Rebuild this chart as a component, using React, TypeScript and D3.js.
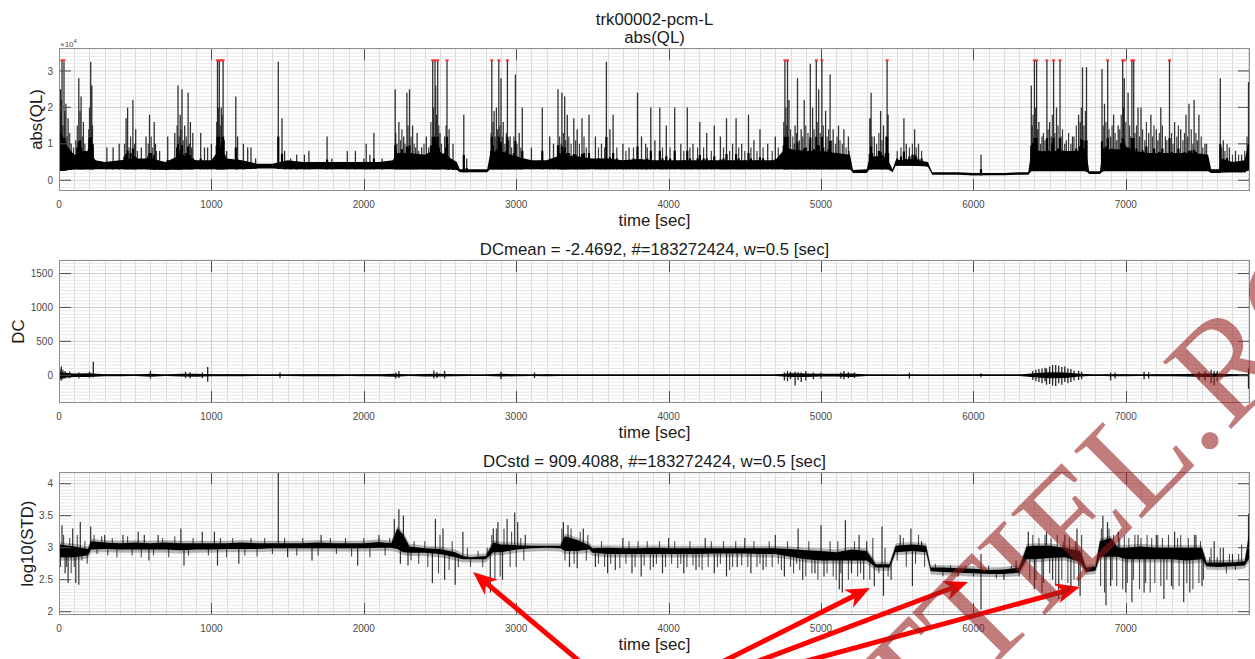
import React from "react";
import * as d3 from "d3";

// ---------------- shared axis data ----------------
const X_MAX = 7815;
const xTickValues = [0, 1000, 2000, 3000, 4000, 5000, 6000, 7000];

// ---------------- panel 1 : abs(QL)  (units of 1e4) ----------------
const qlYTicks = [0, 1, 2, 3];
const qlTimes = [
  0, 60, 100, 150, 200, 240, 300, 400, 500, 600,
  700, 800, 900, 1000, 1060, 1100, 1200, 1300, 1400, 1500,
  1600, 1700, 1800, 1900, 2000, 2100, 2190, 2220, 2300, 2400,
  2470, 2550, 2610, 2630, 2810, 2830, 2900, 3000, 3100, 3200,
  3300, 3400, 3500, 3600, 3700, 3800, 3900, 4000, 4100, 4200,
  4300, 4400, 4500, 4600, 4700, 4750, 4800, 4900, 5000, 5100,
  5190, 5210, 5300, 5320, 5400, 5440, 5470, 5490, 5600, 5700,
  5730, 5800, 5900, 6000, 6100, 6200, 6300, 6360, 6380, 6450,
  6550, 6650, 6740, 6760, 6830, 6850, 6950, 7050, 7150, 7250,
  7350, 7450, 7540, 7560, 7610, 7630, 7700, 7780, 7815,
];
const qlLow = [
  0.25, 0.28, 0.3, 0.3, 0.3, 0.3, 0.3, 0.3, 0.3, 0.3,
  0.28, 0.3, 0.3, 0.3, 0.3, 0.3, 0.3, 0.32, 0.32, 0.3,
  0.3, 0.3, 0.3, 0.3, 0.3, 0.3, 0.3, 0.3, 0.3, 0.3,
  0.3, 0.3, 0.28, 0.22, 0.22, 0.3, 0.3, 0.3, 0.3, 0.3,
  0.3, 0.3, 0.3, 0.3, 0.3, 0.3, 0.3, 0.3, 0.3, 0.3,
  0.3, 0.3, 0.3, 0.3, 0.3, 0.3, 0.3, 0.3, 0.3, 0.3,
  0.3, 0.2, 0.2, 0.3, 0.3, 0.3, 0.22, 0.4, 0.4, 0.38,
  0.15, 0.15, 0.15, 0.13, 0.14, 0.14, 0.15, 0.15, 0.25, 0.25,
  0.25, 0.25, 0.25, 0.17, 0.17, 0.25, 0.25, 0.25, 0.25, 0.25,
  0.25, 0.25, 0.25, 0.2, 0.2, 0.22, 0.22, 0.22, 0.3,
];
const qlHigh = [
  1.4, 0.9, 0.7, 0.8, 0.8, 0.55, 0.5, 0.55, 0.6, 0.6,
  0.5, 0.7, 0.55, 0.55, 0.9, 0.6, 0.55, 0.45, 0.45, 0.55,
  0.5, 0.5, 0.5, 0.5, 0.5, 0.5, 0.55, 0.75, 0.75, 0.7,
  0.85, 0.65, 0.5, 0.3, 0.3, 0.75, 0.8, 0.65, 0.55, 0.55,
  0.7, 0.65, 0.6, 0.6, 0.55, 0.58, 0.55, 0.55, 0.55, 0.55,
  0.55, 0.55, 0.55, 0.55, 0.55, 0.8, 0.85, 0.8, 0.8, 0.75,
  0.7, 0.28, 0.3, 0.65, 0.65, 0.55, 0.3, 0.55, 0.58, 0.5,
  0.22, 0.22, 0.22, 0.2, 0.2, 0.2, 0.22, 0.22, 0.8, 0.8,
  0.8, 0.8, 0.8, 0.25, 0.25, 0.85, 0.85, 0.8, 0.75, 0.75,
  0.75, 0.75, 0.7, 0.3, 0.3, 0.6, 0.5, 0.55, 1.2,
];
// [time, peak] — isolated tall spikes
const qlSpikes: [number, number][] = [
  [10, 2.5], [20, 3.28], [33, 3.25], [45, 2.1], [60, 1.7], [80, 1.0], [130, 2.8], [145, 2.3], [160, 1.6], [208, 3.25],
  [215, 2.6], [225, 1.0], [314, 0.9], [355, 0.9], [395, 1.0], [440, 1.7], [450, 2.0], [485, 2.2], [503, 1.4], [540, 0.9],
  [571, 1.2], [594, 1.8], [625, 1.6], [633, 1.0], [660, 0.8], [713, 1.2], [760, 1.3], [781, 2.6], [795, 1.8], [807, 2.5],
  [825, 1.5], [847, 2.4], [862, 1.6], [878, 1.3], [930, 1.3], [955, 0.9], [975, 0.9], [1000, 1.0], [1040, 3.28], [1052, 3.28],
  [1065, 2.0], [1077, 3.28], [1100, 0.8], [1160, 2.3], [1172, 1.2], [1210, 1.0], [1238, 0.9], [1260, 0.9], [1290, 0.6], [1439, 3.25],
  [1463, 1.7], [1480, 0.8], [1520, 0.6], [1560, 0.7], [1610, 0.7], [1640, 0.8], [1759, 1.2], [1790, 0.6], [1892, 0.8], [1945, 0.8],
  [2000, 0.6], [2016, 1.0], [2040, 0.7], [2066, 1.3], [2120, 0.6], [2206, 2.5], [2230, 1.6], [2262, 1.2], [2283, 2.4], [2300, 2.5],
  [2320, 1.5], [2350, 1.3], [2380, 0.9], [2410, 1.2], [2452, 3.28], [2467, 3.28], [2472, 2.6], [2485, 3.28], [2500, 1.3], [2546, 3.28],
  [2560, 1.4], [2585, 1.0], [2656, 1.8], [2675, 0.6], [2840, 3.28], [2855, 1.9], [2870, 2.0], [2886, 3.28], [2900, 2.8], [2915, 1.6],
  [2942, 3.28], [2960, 1.2], [2995, 2.9], [3020, 1.3], [3040, 2.0], [3100, 0.9], [3171, 2.0], [3220, 1.2], [3245, 1.0], [3274, 2.5],
  [3300, 2.4], [3318, 2.3], [3335, 1.8], [3378, 1.7], [3400, 1.4], [3432, 1.7], [3478, 1.8], [3520, 1.2], [3560, 1.0], [3592, 3.25],
  [3615, 1.4], [3636, 1.8], [3700, 1.0], [3740, 0.9], [3796, 2.4], [3822, 1.2], [3850, 1.0], [3883, 2.0], [3910, 1.1], [3942, 2.0],
  [3985, 1.5], [4040, 2.0], [4080, 1.0], [4123, 2.0], [4160, 1.0], [4205, 1.6], [4250, 1.3], [4300, 1.5], [4340, 1.2], [4380, 1.7],
  [4420, 1.0], [4443, 1.7], [4480, 1.0], [4524, 1.8], [4560, 1.1], [4600, 1.4], [4650, 1.0], [4700, 1.2], [4763, 3.28], [4780, 3.28],
  [4790, 2.2], [4830, 1.5], [4846, 2.8], [4870, 1.4], [4890, 2.2], [4930, 3.2], [4945, 2.0], [4969, 3.28], [4985, 2.5], [5006, 3.28],
  [5030, 1.9], [5060, 2.9], [5080, 1.4], [5115, 1.5], [5150, 1.4], [5180, 1.2], [5320, 1.7], [5329, 2.4], [5350, 1.2], [5391, 1.9],
  [5410, 1.5], [5434, 3.28], [5440, 1.8], [5544, 1.7], [5560, 1.0], [5614, 1.4], [5640, 1.0], [5700, 0.5], [6050, 0.7], [6380, 2.6],
  [6400, 3.28], [6415, 3.28], [6430, 1.6], [6450, 1.2], [6482, 3.28], [6500, 1.6], [6526, 3.28], [6545, 2.0], [6568, 3.28], [6600, 1.0],
  [6650, 1.2], [6690, 1.8], [6716, 3.1], [6742, 3.1], [6844, 3.05], [6860, 2.1], [6881, 3.28], [6920, 1.8], [6950, 1.5], [6980, 3.28],
  [6990, 2.8], [7015, 2.4], [7040, 3.28], [7052, 3.28], [7080, 2.0], [7100, 2.0], [7150, 1.3], [7165, 1.8], [7200, 1.4], [7230, 2.0],
  [7260, 1.2], [7287, 3.28], [7320, 1.6], [7360, 1.4], [7395, 1.8], [7415, 2.1], [7448, 2.2], [7480, 1.8], [7520, 1.0], [7620, 2.8],
  [7640, 1.1], [7680, 0.9], [7720, 0.8], [7760, 0.7], [7805, 2.7],
];
// [time, peak] — dense bursts of medium spikes
const qlBurst: [number, number][] = [
  [5, 1.8], [15, 2.2], [25, 1.5], [38, 1.9], [52, 1.2], [70, 1.3], [95, 0.9], [110, 1.1], [120, 1.5], [138, 1.9],
  [152, 1.2], [170, 1.0], [185, 0.8], [195, 1.4], [200, 2.0], [220, 1.5], [430, 1.0], [460, 0.9], [470, 1.2], [495, 1.0],
  [515, 0.8], [585, 1.0], [605, 1.2], [615, 0.9], [640, 0.8], [775, 1.5], [788, 1.2], [800, 1.4], [815, 1.1], [835, 1.2],
  [855, 1.0], [870, 0.9], [1035, 1.6], [1045, 2.0], [1058, 1.5], [1070, 1.8], [1085, 1.1], [2210, 1.3], [2218, 1.0], [2240, 1.1],
  [2250, 1.4], [2270, 1.0], [2290, 1.5], [2310, 1.2], [2330, 1.0], [2340, 0.9], [2360, 0.8], [2395, 1.0], [2425, 0.9], [2440, 1.6],
  [2458, 2.0], [2478, 1.8], [2492, 1.5], [2510, 1.0], [2530, 1.2], [2540, 1.5], [2552, 1.0], [2835, 1.3], [2848, 1.6], [2862, 1.2],
  [2878, 1.4], [2893, 1.5], [2908, 1.2], [2925, 1.0], [2935, 1.3], [2950, 1.1], [2970, 0.9], [2985, 1.2], [3005, 1.0], [3030, 0.9],
  [3285, 1.2], [3295, 1.0], [3310, 1.3], [3325, 1.1], [3345, 1.2], [3360, 1.0], [3390, 1.1], [3415, 1.0], [3445, 1.2], [3460, 0.9],
  [3540, 0.9], [3580, 0.9], [3660, 0.9], [3720, 0.8], [3770, 0.9], [3860, 0.9], [3960, 0.9], [4010, 0.9], [4100, 0.8], [4140, 0.9],
  [4190, 0.9], [4230, 0.9], [4280, 0.8], [4360, 0.9], [4400, 0.8], [4460, 0.9], [4500, 0.8], [4540, 0.9], [4580, 0.8], [4620, 0.9],
  [4680, 0.8], [4720, 0.9], [4755, 1.6], [4770, 2.0], [4775, 1.5], [4800, 1.4], [4815, 1.2], [4825, 1.0], [4840, 1.3], [4858, 1.1],
  [4880, 1.2], [4900, 1.5], [4915, 1.3], [4925, 1.0], [4955, 1.4], [4975, 1.6], [4995, 1.3], [5015, 1.5], [5040, 1.2], [5050, 1.4],
  [5070, 1.1], [5095, 1.0], [5105, 1.2], [5125, 1.1], [5140, 1.0], [5165, 0.9], [5185, 0.8], [5335, 1.2], [5365, 1.0], [5380, 1.3],
  [5400, 1.1], [5425, 1.2], [5500, 0.8], [5525, 0.9], [5580, 0.9], [5600, 1.0], [5625, 0.9], [5660, 0.8], [6385, 1.5], [6392, 1.8],
  [6408, 2.0], [6422, 1.4], [6440, 1.0], [6460, 1.3], [6470, 1.1], [6490, 1.4], [6510, 1.2], [6518, 1.8], [6535, 1.3], [6555, 1.5],
  [6575, 1.2], [6585, 1.4], [6610, 1.1], [6625, 1.3], [6640, 1.0], [6660, 1.2], [6675, 1.5], [6700, 1.6], [6708, 2.0], [6725, 1.5],
  [6735, 1.9], [6852, 1.5], [6870, 1.6], [6890, 1.4], [6900, 1.2], [6910, 1.5], [6930, 1.3], [6940, 1.1], [6960, 1.4], [6970, 1.8],
  [6985, 2.0], [7000, 1.6], [7025, 1.5], [7030, 1.2], [7060, 1.3], [7070, 1.5], [7090, 1.2], [7110, 1.4], [7125, 1.1], [7135, 1.6],
  [7175, 1.2], [7185, 1.5], [7210, 1.1], [7220, 1.3], [7240, 1.5], [7270, 1.1], [7300, 1.3], [7310, 1.0], [7335, 1.2], [7345, 1.5],
  [7375, 1.1], [7385, 1.3], [7405, 1.2], [7430, 1.4], [7440, 1.0], [7460, 1.3], [7470, 1.1], [7495, 1.2], [7505, 0.9], [7530, 1.0],
  [7630, 0.9], [7650, 0.8], [7665, 1.0], [7700, 0.7], [7740, 0.7], [7780, 0.8], [7795, 1.2],
];
const qlClipTimes = [
  20, 33, 1040, 1052, 1065, 1077, 2452, 2467, 2485, 2546, 2840, 2886, 2942, 4763, 4780,
  4969, 5006, 5434, 6400, 6415, 6482, 6526, 6568, 6881, 6980, 6990, 7040, 7052, 7287,
];
const QL_CLIP = 3.2767;

// ---------------- panel 2 : DC ----------------
const dcYTicks = [0, 500, 1000, 1500];
const dcTimes = [
  0, 100, 200, 300, 400, 500, 600, 700, 800, 900,
  1000, 1100, 1200, 1300, 1400, 1500, 1600, 1700, 1800, 1900,
  2000, 2100, 2200, 2300, 2400, 2500, 2600, 2700, 2800, 2900,
  3000, 3100, 3200, 3300, 3400, 3500, 3600, 3700, 3800, 3900,
  4000, 4100, 4200, 4300, 4400, 4500, 4600, 4700, 4800, 4900,
  5000, 5100, 5200, 5300, 5400, 5500, 5600, 5700, 5800, 5900,
  6000, 6100, 6200, 6300, 6400, 6500, 6600, 6700, 6800, 6900,
  7000, 7100, 7200, 7300, 7400, 7500, 7600, 7700, 7800, 7815,
];
const dcAmp = [
  45, 25, 28, 14, 14, 12, 22, 12, 20, 22,
  15, 14, 14, 12, 12, 12, 14, 14, 14, 12,
  14, 14, 22, 10, 18, 20, 14, 10, 10, 20,
  15, 12, 14, 10, 10, 10, 10, 10, 10, 10,
  10, 10, 10, 10, 10, 10, 10, 10, 28, 26,
  20, 20, 25, 12, 10, 8, 12, 8, 8, 9,
  9, 9, 9, 12, 30, 45, 40, 20, 9, 16,
  14, 12, 16, 16, 18, 26, 26, 14, 16, 16,
];
// [time, max, min]
const dcSpikes: [number, number, number][] = [
  [5, 90, -70], [15, 130, -80], [25, 80, -60], [40, 60, -50], [70, 50, -40], [130, 40, -45], [200, 50, -40], [225, 200, -30],
  [600, 60, -50], [830, 50, -40], [860, 45, -45], [940, 40, -40], [976, 120, -95], [1450, 40, -40], [2210, 40, -50], [2230, 60, -40],
  [2460, 70, -50], [2480, 45, -40], [2530, 60, -50], [2900, 50, -60], [3120, 40, -40], [4760, 40, -80], [4780, 60, -90], [4800, 50, -60],
  [4830, 50, -150], [4850, 45, -70], [4870, 40, -100], [4900, 60, -80], [4950, 40, -60], [5000, 40, -50], [5130, 40, -50], [5150, 60, -60],
  [5180, 45, -45], [5220, 40, -40], [5580, 40, -50], [6050, 30, -30], [6390, 60, -70], [6410, 80, -90], [6430, 90, -100], [6450, 100, -120],
  [6470, 110, -90], [6480, 100, -140], [6500, 130, -130], [6520, 150, -150], [6540, 150, -160], [6560, 140, -120], [6580, 120, -140],
  [6600, 130, -100], [6620, 100, -120], [6640, 90, -100], [6660, 70, -80], [6690, 60, -70], [6710, 50, -60], [6900, 40, -80],
  [6930, 40, -50], [7120, 50, -60], [7150, 45, -50], [7480, 50, -70], [7520, 60, -80], [7560, 80, -120], [7580, 60, -150],
  [7600, 60, -90], [7805, 100, -200],
];

// ---------------- panel 3 : log10(STD) ----------------
const stdYTicks = [2, 2.5, 3, 3.5, 4];
const stdTimes = [
  0, 100, 190, 210, 300, 400, 500, 600, 700, 800,
  900, 1000, 1100, 1200, 1300, 1400, 1500, 1600, 1700, 1800,
  1900, 2000, 2100, 2180, 2220, 2260, 2300, 2400, 2500, 2600,
  2650, 2700, 2800, 2850, 2900, 3000, 3100, 3200, 3290, 3320,
  3400, 3480, 3500, 3600, 3700, 3800, 3900, 4000, 4100, 4200,
  4300, 4400, 4500, 4600, 4700, 4800, 4900, 5000, 5100, 5200,
  5300, 5360, 5450, 5490, 5600, 5690, 5720, 5800, 5900, 6000,
  6100, 6200, 6300, 6350, 6400, 6500, 6600, 6700, 6740, 6800,
  6830, 6900, 6950, 7000, 7100, 7200, 7300, 7400, 7500, 7530,
  7600, 7700, 7780, 7815,
];
const stdLo = [
  2.85, 2.85, 2.88, 2.97, 2.98, 2.97, 2.97, 2.97, 2.97, 2.96,
  2.97, 2.97, 2.98, 2.98, 2.98, 2.99, 2.99, 2.99, 2.99, 2.99,
  2.99, 2.99, 3.0, 3.0, 2.98, 2.93, 2.92, 2.92, 2.9, 2.85,
  2.82, 2.82, 2.82, 2.93, 2.93, 2.97, 2.99, 3.0, 2.99, 2.95,
  2.95, 2.97, 2.92, 2.9, 2.9, 2.9, 2.9, 2.9, 2.9, 2.9,
  2.91, 2.91, 2.91, 2.9, 2.9, 2.86, 2.82, 2.8, 2.8, 2.8,
  2.8, 2.69, 2.69, 2.93, 2.95, 2.93, 2.63, 2.62, 2.61, 2.6,
  2.59, 2.59, 2.61, 2.82, 2.82, 2.84, 2.85, 2.78, 2.62, 2.64,
  2.86, 2.86, 2.86, 2.82, 2.82, 2.82, 2.82, 2.8, 2.82, 2.71,
  2.7, 2.71, 2.72, 2.85,
];
const stdHi = [
  3.05, 3.02, 2.98, 3.1, 3.08, 3.07, 3.08, 3.07, 3.08, 3.07,
  3.07, 3.07, 3.07, 3.08, 3.07, 3.07, 3.07, 3.07, 3.08, 3.07,
  3.07, 3.07, 3.09, 3.07, 3.3, 3.2, 3.02, 2.99, 2.98, 2.93,
  2.87, 2.85, 2.87, 3.08, 3.05, 3.04, 3.03, 3.03, 3.03, 3.18,
  3.12, 3.04, 2.99, 3.0, 2.99, 2.99, 3.0, 2.99, 2.99, 2.99,
  2.99, 2.99, 2.99, 2.99, 2.99, 2.98, 2.96, 2.95, 2.93, 2.97,
  2.95, 2.74, 2.74, 3.03, 3.05, 3.03, 2.69, 2.69, 2.68, 2.67,
  2.65, 2.66, 2.69, 3.02, 3.03, 3.03, 3.0, 2.95, 2.69, 2.71,
  3.1, 3.15, 3.0, 3.0, 3.02, 3.0, 3.0, 3.0, 3.0, 2.77,
  2.77, 2.77, 2.79, 3.3,
];
// [time, extreme value] drawn from the band centre
const stdSpikes: [number, number][] = [
  [20, 3.35], [40, 2.6], [60, 2.45], [90, 3.3], [110, 2.45], [130, 2.42], [140, 3.4], [208, 3.33], [300, 3.2], [420, 3.2],
  [520, 3.25], [560, 3.2], [590, 2.8], [650, 3.2], [800, 3.3], [820, 2.72], [940, 3.25], [1020, 3.25], [1040, 2.72], [1180, 2.75],
  [1439, 4.18], [1500, 2.85], [1660, 2.8], [1720, 3.2], [1960, 2.72], [2100, 3.2], [2200, 3.45], [2230, 3.6], [2260, 3.5], [2240, 2.75],
  [2290, 2.72], [2470, 3.45], [2450, 2.45], [2530, 2.5], [2520, 3.3], [2600, 2.42], [2650, 3.25], [2830, 2.3], [2850, 3.3], [2880, 3.4],
  [2910, 2.5], [2940, 3.45], [2990, 3.55], [3010, 3.4], [3060, 3.2], [3310, 3.4], [3340, 3.35], [3350, 2.7], [3400, 2.68], [3440, 3.3],
  [3520, 2.7], [3600, 2.6], [3650, 2.65], [3700, 3.15], [3760, 2.6], [3820, 2.55], [3900, 2.7], [3960, 2.6], [4000, 3.15], [4100, 2.6],
  [4180, 2.65], [4240, 3.15], [4300, 2.6], [4380, 2.55], [4450, 2.7], [4500, 3.15], [4540, 2.6], [4620, 2.65], [4700, 3.2], [4760, 2.55],
  [4850, 3.3], [4880, 2.5], [4960, 2.6], [5000, 3.35], [5020, 2.55], [5120, 2.35], [5140, 2.3], [5160, 3.43], [5200, 2.6], [5250, 3.2],
  [5280, 2.5], [5300, 3.1], [5350, 2.4], [5400, 3.33], [5410, 2.25], [5460, 2.5], [5520, 3.2], [5590, 3.3], [5600, 2.4], [5660, 3.1],
  [6050, 2.03], [6050, 2.9], [6200, 2.5], [6280, 2.8], [6360, 3.25], [6400, 2.35], [6450, 2.3], [6480, 3.25], [6520, 2.5], [6560, 2.2],
  [6600, 3.2], [6640, 2.4], [6680, 3.3], [6700, 2.25], [6850, 3.5], [6870, 2.1], [6880, 3.4], [6900, 2.4], [6950, 3.25], [7000, 2.3],
  [7040, 2.15], [7080, 3.2], [7120, 2.3], [7200, 3.2], [7250, 2.2], [7300, 2.4], [7320, 3.25], [7380, 2.15], [7420, 2.3], [7460, 3.2],
  [7500, 2.4], [7580, 3.1], [7640, 3.0], [7700, 2.9], [7805, 3.53],
];
// [time, value] fine noise around the band
const stdNoise: [number, number][] = [
  [10, 2.7], [30, 3.2], [50, 2.7], [70, 3.15], [80, 2.6], [100, 2.7], [120, 3.2], [150, 2.8], [170, 3.1], [185, 2.75],
  [230, 3.2], [250, 2.9], [280, 3.18], [320, 2.88], [350, 3.15], [380, 2.85], [450, 3.18], [480, 2.88], [540, 2.85], [620, 2.88],
  [680, 3.15], [720, 2.85], [760, 3.18], [850, 2.88], [880, 3.15], [980, 2.88], [1060, 3.15], [1100, 2.85], [1140, 3.15], [1220, 2.88],
  [1260, 3.15], [1300, 2.86], [1350, 3.15], [1400, 2.9], [1480, 3.15], [1560, 2.88], [1600, 3.15], [1700, 2.88], [1780, 3.15], [1820, 2.9],
  [1880, 3.15], [1920, 2.86], [2000, 3.15], [2040, 2.85], [2140, 2.88], [2170, 3.15], [2310, 2.8], [2330, 3.1], [2360, 2.75], [2400, 3.1],
  [2420, 2.7], [2490, 2.6], [2500, 3.2], [2560, 2.65], [2580, 3.1], [2620, 2.7], [2680, 3.0], [2700, 2.7], [2750, 2.95], [2780, 2.7],
  [2810, 3.0], [2840, 3.2], [2860, 2.5], [2870, 3.3], [2895, 2.55], [2920, 3.3], [2960, 2.7], [2970, 3.25], [3000, 2.7], [3030, 3.15],
  [3050, 2.8], [3300, 3.3], [3320, 2.8], [3360, 3.3], [3380, 2.75], [3420, 3.25], [3460, 2.8], [3470, 3.2], [3540, 2.75], [3560, 3.1],
  [3580, 2.7], [3620, 2.75], [3680, 2.68], [3720, 2.75], [3740, 3.1], [3780, 2.7], [3800, 3.1], [3840, 2.72], [3860, 3.1], [3880, 2.65],
  [3920, 2.75], [3940, 3.1], [3980, 2.7], [4020, 2.75], [4040, 3.1], [4060, 2.68], [4080, 2.75], [4120, 2.7], [4140, 3.1], [4160, 2.72],
  [4200, 2.7], [4220, 2.65], [4260, 2.7], [4280, 3.1], [4320, 2.7], [4340, 2.75], [4360, 3.1], [4400, 2.65], [4420, 2.7], [4440, 3.1],
  [4480, 2.72], [4520, 2.7], [4560, 3.1], [4580, 2.7], [4600, 2.75], [4640, 2.7], [4660, 3.1], [4680, 2.7], [4720, 2.75], [4740, 2.65],
  [4780, 3.1], [4800, 2.7], [4820, 2.6], [4840, 2.75], [4860, 2.65], [4900, 2.55], [4920, 3.1], [4940, 2.6], [4980, 2.5], [5040, 2.6],
  [5060, 3.1], [5080, 2.55], [5100, 2.5], [5110, 3.1], [5130, 2.6], [5180, 2.5], [5220, 3.1], [5240, 2.55], [5260, 2.6], [5320, 2.5],
  [5340, 3.15], [5380, 2.6], [5420, 3.0], [5440, 2.55], [5500, 2.8], [5540, 3.15], [5560, 2.7], [5620, 2.75], [5640, 3.2], [5680, 2.7],
  [5750, 2.75], [5800, 2.55], [5850, 2.72], [5900, 2.55], [5950, 2.72], [6000, 2.55], [6100, 2.72], [6150, 2.52], [6250, 2.72], [6300, 2.55],
  [6370, 2.5], [6390, 3.2], [6410, 2.5], [6430, 3.15], [6460, 2.45], [6470, 3.2], [6500, 2.6], [6510, 3.15], [6540, 2.4], [6550, 3.2],
  [6580, 2.5], [6590, 3.1], [6620, 2.45], [6630, 3.15], [6660, 2.5], [6670, 3.1], [6690, 2.4], [6710, 3.2], [6835, 2.4], [6840, 3.3],
  [6860, 2.3], [6890, 3.3], [6910, 2.5], [6920, 3.2], [6940, 2.4], [6960, 3.15], [6980, 2.35], [6990, 3.2], [7010, 2.45], [7020, 3.15],
  [7050, 2.5], [7060, 3.2], [7090, 2.35], [7100, 3.15], [7130, 2.45], [7140, 3.2], [7160, 2.3], [7170, 3.15], [7190, 2.45], [7210, 3.2],
  [7230, 2.4], [7240, 3.15], [7270, 2.5], [7280, 3.2], [7310, 2.35], [7340, 3.15], [7350, 2.4], [7360, 3.2], [7400, 2.45], [7410, 3.15],
  [7440, 2.35], [7450, 3.2], [7480, 2.45], [7490, 3.1], [7510, 2.5], [7550, 2.85], [7560, 3.0], [7600, 2.85], [7620, 3.0], [7660, 2.6],
  [7680, 2.9], [7720, 2.65], [7740, 2.9], [7760, 3.05], [7790, 2.85],
];

// ---------------- layout ----------------
const W = 1255;
const H = 659;
const LEFT = 59;
const RIGHT = 1250;
const TICK = 12;
const FONT = "'Liberation Sans', Arial, Helvetica, sans-serif";

type AxesProps = {
  id: string;
  top: number;
  bottom: number;
  y: d3.ScaleLinear<number, number>;
  yTicks: number[];
  yMinor: number;
  yFmt: (v: number) => string;
  titles: string[];
  ylabel: string;
  ylabelX: number;
  x: d3.ScaleLinear<number, number>;
  children?: React.ReactNode;
  exponent?: boolean;
};

function Axes(p: AxesProps) {
  const { x, y, top, bottom } = p;
  const xMinor = d3.range(100, X_MAX, 100).filter((t) => t % 1000 !== 0);
  const [d0, d1] = y.domain();
  const yMinorVals: number[] = [];
  for (let k = Math.ceil(d0 / p.yMinor); k * p.yMinor <= d1; k++) {
    const v = +(k * p.yMinor).toFixed(6);
    if (!p.yTicks.some((t) => Math.abs(t - v) < 1e-6)) yMinorVals.push(v);
  }
  const cx = (LEFT + RIGHT) / 2;
  return (
    <g>
      <rect x={LEFT} y={top} width={RIGHT - LEFT} height={bottom - top} fill="#ffffff" />
      <g stroke="#dadada" strokeWidth={1}>
        {xMinor.map((t) => (
          <line key={"vx" + t} x1={Math.round(x(t)) + 0.5} x2={Math.round(x(t)) + 0.5} y1={top} y2={bottom} />
        ))}
      </g>
      <g stroke="#e8e8e8" strokeWidth={1}>
        {yMinorVals.map((v) => (
          <line key={"hy" + v} x1={LEFT} x2={RIGHT} y1={y(v)} y2={y(v)} />
        ))}
      </g>
      <g stroke="#cdcdcd" strokeWidth={1}>
        {xTickValues.map((t) => (
          <line key={"mx" + t} x1={Math.round(x(t)) + 0.5} x2={Math.round(x(t)) + 0.5} y1={top} y2={bottom} />
        ))}
        {p.yTicks.map((v) => (
          <line key={"my" + v} x1={LEFT} x2={RIGHT} y1={y(v)} y2={y(v)} />
        ))}
      </g>
      <clipPath id={p.id}>
        <rect x={LEFT} y={top} width={RIGHT - LEFT} height={bottom - top} />
      </clipPath>
      <g clipPath={`url(#${p.id})`}>{p.children}</g>
      <g stroke="#4d4d4d" strokeWidth={1}>
        {xTickValues.map((t) => {
          const xx = Math.round(x(t)) + 0.5;
          return (
            <g key={"tx" + t}>
              <line x1={xx} x2={xx} y1={bottom} y2={bottom - TICK} />
              <line x1={xx} x2={xx} y1={top} y2={top + TICK} />
            </g>
          );
        })}
        {p.yTicks.map((v) => (
          <g key={"ty" + v}>
            <line x1={LEFT} x2={LEFT + TICK} y1={y(v)} y2={y(v)} />
            <line x1={RIGHT} x2={RIGHT - TICK} y1={y(v)} y2={y(v)} />
          </g>
        ))}
      </g>
      <rect x={LEFT + 0.5} y={top + 0.5} width={RIGHT - LEFT - 1} height={bottom - top - 1} fill="none" stroke="#8f8f8f" strokeWidth={1} />
      <g fontFamily={FONT} fontSize={10} fill="#4a4a4a">
        {xTickValues.map((t) => (
          <text key={"lx" + t} x={x(t)} y={bottom + 16.5} textAnchor="middle">
            {t}
          </text>
        ))}
        {p.yTicks.map((v) => (
          <text key={"ly" + v} x={LEFT - 6} y={y(v) + 3.6} textAnchor="end">
            {p.yFmt(v)}
          </text>
        ))}
      </g>
      {p.exponent && (
        <text x={LEFT + 1} y={top - 1.5} fontFamily={FONT} fontSize={8} fill="#4a4a4a">
          {"\u00d710"}
          <tspan dy={-3.5} fontSize={6}>
            4
          </tspan>
        </text>
      )}
      <g fontFamily={FONT} fontSize={16.8} fill="#1a1a1a" textAnchor="middle">
        {p.titles.map((s, i) => (
          <text key={"tt" + i} x={cx} y={top - 5 - (p.titles.length - 1 - i) * 18}>
            {s}
          </text>
        ))}
        <text x={cx} y={bottom + 35}>time [sec]</text>
        <text transform={`translate(${p.ylabelX},${(top + bottom) / 2}) rotate(-90)`} dominantBaseline="central">
          {p.ylabel}
        </text>
      </g>
    </g>
  );
}

function arrowPath(x0: number, y0: number, x1: number, y1: number) {
  const dx = x1 - x0;
  const dy = y1 - y0;
  const len = Math.hypot(dx, dy);
  const ux = dx / len;
  const uy = dy / len;
  const px = -uy;
  const py = ux;
  const hl = 24;
  const hw = 10;
  const bx = x1 - ux * hl;
  const by = y1 - uy * hl;
  const nx = x1 - ux * (hl - 7);
  const ny = y1 - uy * (hl - 7);
  return {
    line: `M${x0},${y0}L${nx},${ny}`,
    head: `M${x1},${y1}L${bx + px * hw},${by + py * hw}L${nx},${ny}L${bx - px * hw},${by - py * hw}Z`,
  };
}

export default function App() {
  const x = d3.scaleLinear().domain([0, X_MAX]).range([LEFT, RIGHT]);

  // panel 1
  const y1 = d3.scaleLinear().domain([-0.295, 3.63]).range([191, 48]);
  const lowAt = d3.scaleLinear().domain(qlTimes).range(qlLow).clamp(true);
  const qlArea = d3
    .area<number>()
    .x((_, i) => x(qlTimes[i]))
    .y0((_, i) => y1(qlLow[i]))
    .y1((_, i) => y1(qlHigh[i]))(qlTimes) as string;
  const spikeLine = (list: [number, number][]) =>
    list.map(([t, v]) => `M${x(t).toFixed(1)},${y1(lowAt(t)).toFixed(1)}V${y1(v).toFixed(1)}`).join("");
  const spikeCore = (list: [number, number][], f: number) =>
    list
      .map(([t, v]) => {
        const b = lowAt(t);
        const m = b + (v - b) * f;
        return `M${x(t).toFixed(1)},${y1(b).toFixed(1)}V${y1(m).toFixed(1)}`;
      })
      .join("");

  // panel 2
  const y2 = d3.scaleLinear().domain([-410, 1700]).range([403, 260]);
  const dcArea = d3
    .area<number>()
    .x((_, i) => x(dcTimes[i]))
    .y0((_, i) => y2(-dcAmp[i]))
    .y1((_, i) => y2(dcAmp[i]))(dcTimes) as string;
  const dcZero = d3.line<number>().x((t) => x(t)).y(() => y2(0))(dcTimes) as string;
  const dcSpikePath = dcSpikes
    .map(([t, a, b]) => `M${x(t).toFixed(1)},${y2(b).toFixed(1)}V${y2(a).toFixed(1)}`)
    .join("");

  // panel 3
  const y3 = d3.scaleLinear().domain([1.948, 4.183]).range([615, 472]);
  const sLoAt = d3.scaleLinear().domain(stdTimes).range(stdLo).clamp(true);
  const sHiAt = d3.scaleLinear().domain(stdTimes).range(stdHi).clamp(true);
  const stdArea = d3
    .area<number>()
    .x((_, i) => x(stdTimes[i]))
    .y0((_, i) => y3(stdLo[i]))
    .y1((_, i) => y3(stdHi[i]))(stdTimes) as string;
  const stdFringe = d3
    .area<number>()
    .x((_, i) => x(stdTimes[i]))
    .y0((_, i) => y3(stdLo[i] - 0.05))
    .y1((_, i) => y3(stdHi[i] + 0.04))(stdTimes) as string;
  const stdLines = (list: [number, number][]) =>
    list
      .map(([t, v]) => {
        const mid = (sLoAt(t) + sHiAt(t)) / 2;
        return `M${x(t).toFixed(1)},${y3(mid).toFixed(1)}V${y3(v).toFixed(1)}`;
      })
      .join("");

  const arrows = [
    arrowPath(640, 712, 473, 572),
    arrowPath(618, 714, 870, 588),
    arrowPath(618, 714, 968, 582),
    arrowPath(618, 712, 1080, 587),
  ];

  return (
    <svg
      width={W}
      height={H}
      viewBox={`0 0 ${W} ${H}`}
      style={{ position: "absolute", left: 0, top: 0, display: "block", background: "#ffffff" }}
    >
      <rect x={0} y={0} width={W} height={H} fill="#ffffff" />

      <Axes
        id="clip1"
        x={x}
        y={y1}
        top={48}
        bottom={191}
        yTicks={qlYTicks}
        yMinor={0.1}
        yFmt={(v) => String(v)}
        titles={["trk00002-pcm-L", "abs(QL)"]}
        ylabel="abs(QL)"
        ylabelX={36}
        exponent
      >
        <path d={spikeLine(qlBurst)} stroke="#000" strokeOpacity={0.75} strokeWidth={1.2} fill="none" />
        <path d={spikeLine(qlSpikes)} stroke="#000" strokeOpacity={0.8} strokeWidth={1.3} fill="none" />
        <path d={spikeCore(qlBurst, 0.5)} stroke="#000" strokeWidth={2.2} fill="none" />
        <path d={spikeCore(qlSpikes, 0.3)} stroke="#000" strokeWidth={2.2} fill="none" />
        <path d={qlArea} fill="#000" />
        {qlClipTimes.map((t, i) => (
          <rect key={"c" + i} x={x(t) - 1.5} y={y1(QL_CLIP) - 1.5} width={3} height={2} fill="#f03030" />
        ))}
      </Axes>

      <Axes
        id="clip2"
        x={x}
        y={y2}
        top={260}
        bottom={403}
        yTicks={dcYTicks}
        yMinor={50}
        yFmt={(v) => String(v)}
        titles={["DCmean = -2.4692, #=183272424, w=0.5 [sec]"]}
        ylabel="DC"
        ylabelX={18.5}
      >
        <path d={dcArea} fill="#000" />
        <path d={dcZero} stroke="#000" strokeWidth={1.6} fill="none" />
        <path d={dcSpikePath} stroke="#000" strokeOpacity={0.85} strokeWidth={1.3} fill="none" />
      </Axes>

      <Axes
        id="clip3"
        x={x}
        y={y3}
        top={472}
        bottom={615}
        yTicks={stdYTicks}
        yMinor={0.05}
        yFmt={(v) => String(v)}
        titles={["DCstd = 909.4088, #=183272424, w=0.5 [sec]"]}
        ylabel="log10(STD)"
        ylabelX={27.5}
      >
        <path d={stdFringe} fill="#000" fillOpacity={0.28} />
        <path d={stdLines(stdNoise)} stroke="#000" strokeOpacity={0.7} strokeWidth={1.1} fill="none" />
        <path d={stdLines(stdSpikes)} stroke="#000" strokeOpacity={0.8} strokeWidth={1.2} fill="none" />
        <path d={stdArea} fill="#000" />
      </Axes>

      <g>
        {arrows.map((a, i) => (
          <g key={"ar" + i}>
            <path d={a.line} stroke="#ff0000" strokeWidth={5} fill="none" />
            <path d={a.head} fill="#ff0000" />
          </g>
        ))}
      </g>

      <text
        transform="translate(915,745) rotate(-45)"
        fontFamily="'Liberation Serif', 'Times New Roman', serif"
        fontSize={146}
        fill="rgb(150,30,30)"
        fillOpacity={0.58}
      >
        TTIEL.RO
      </text>
    </svg>
  );
}
